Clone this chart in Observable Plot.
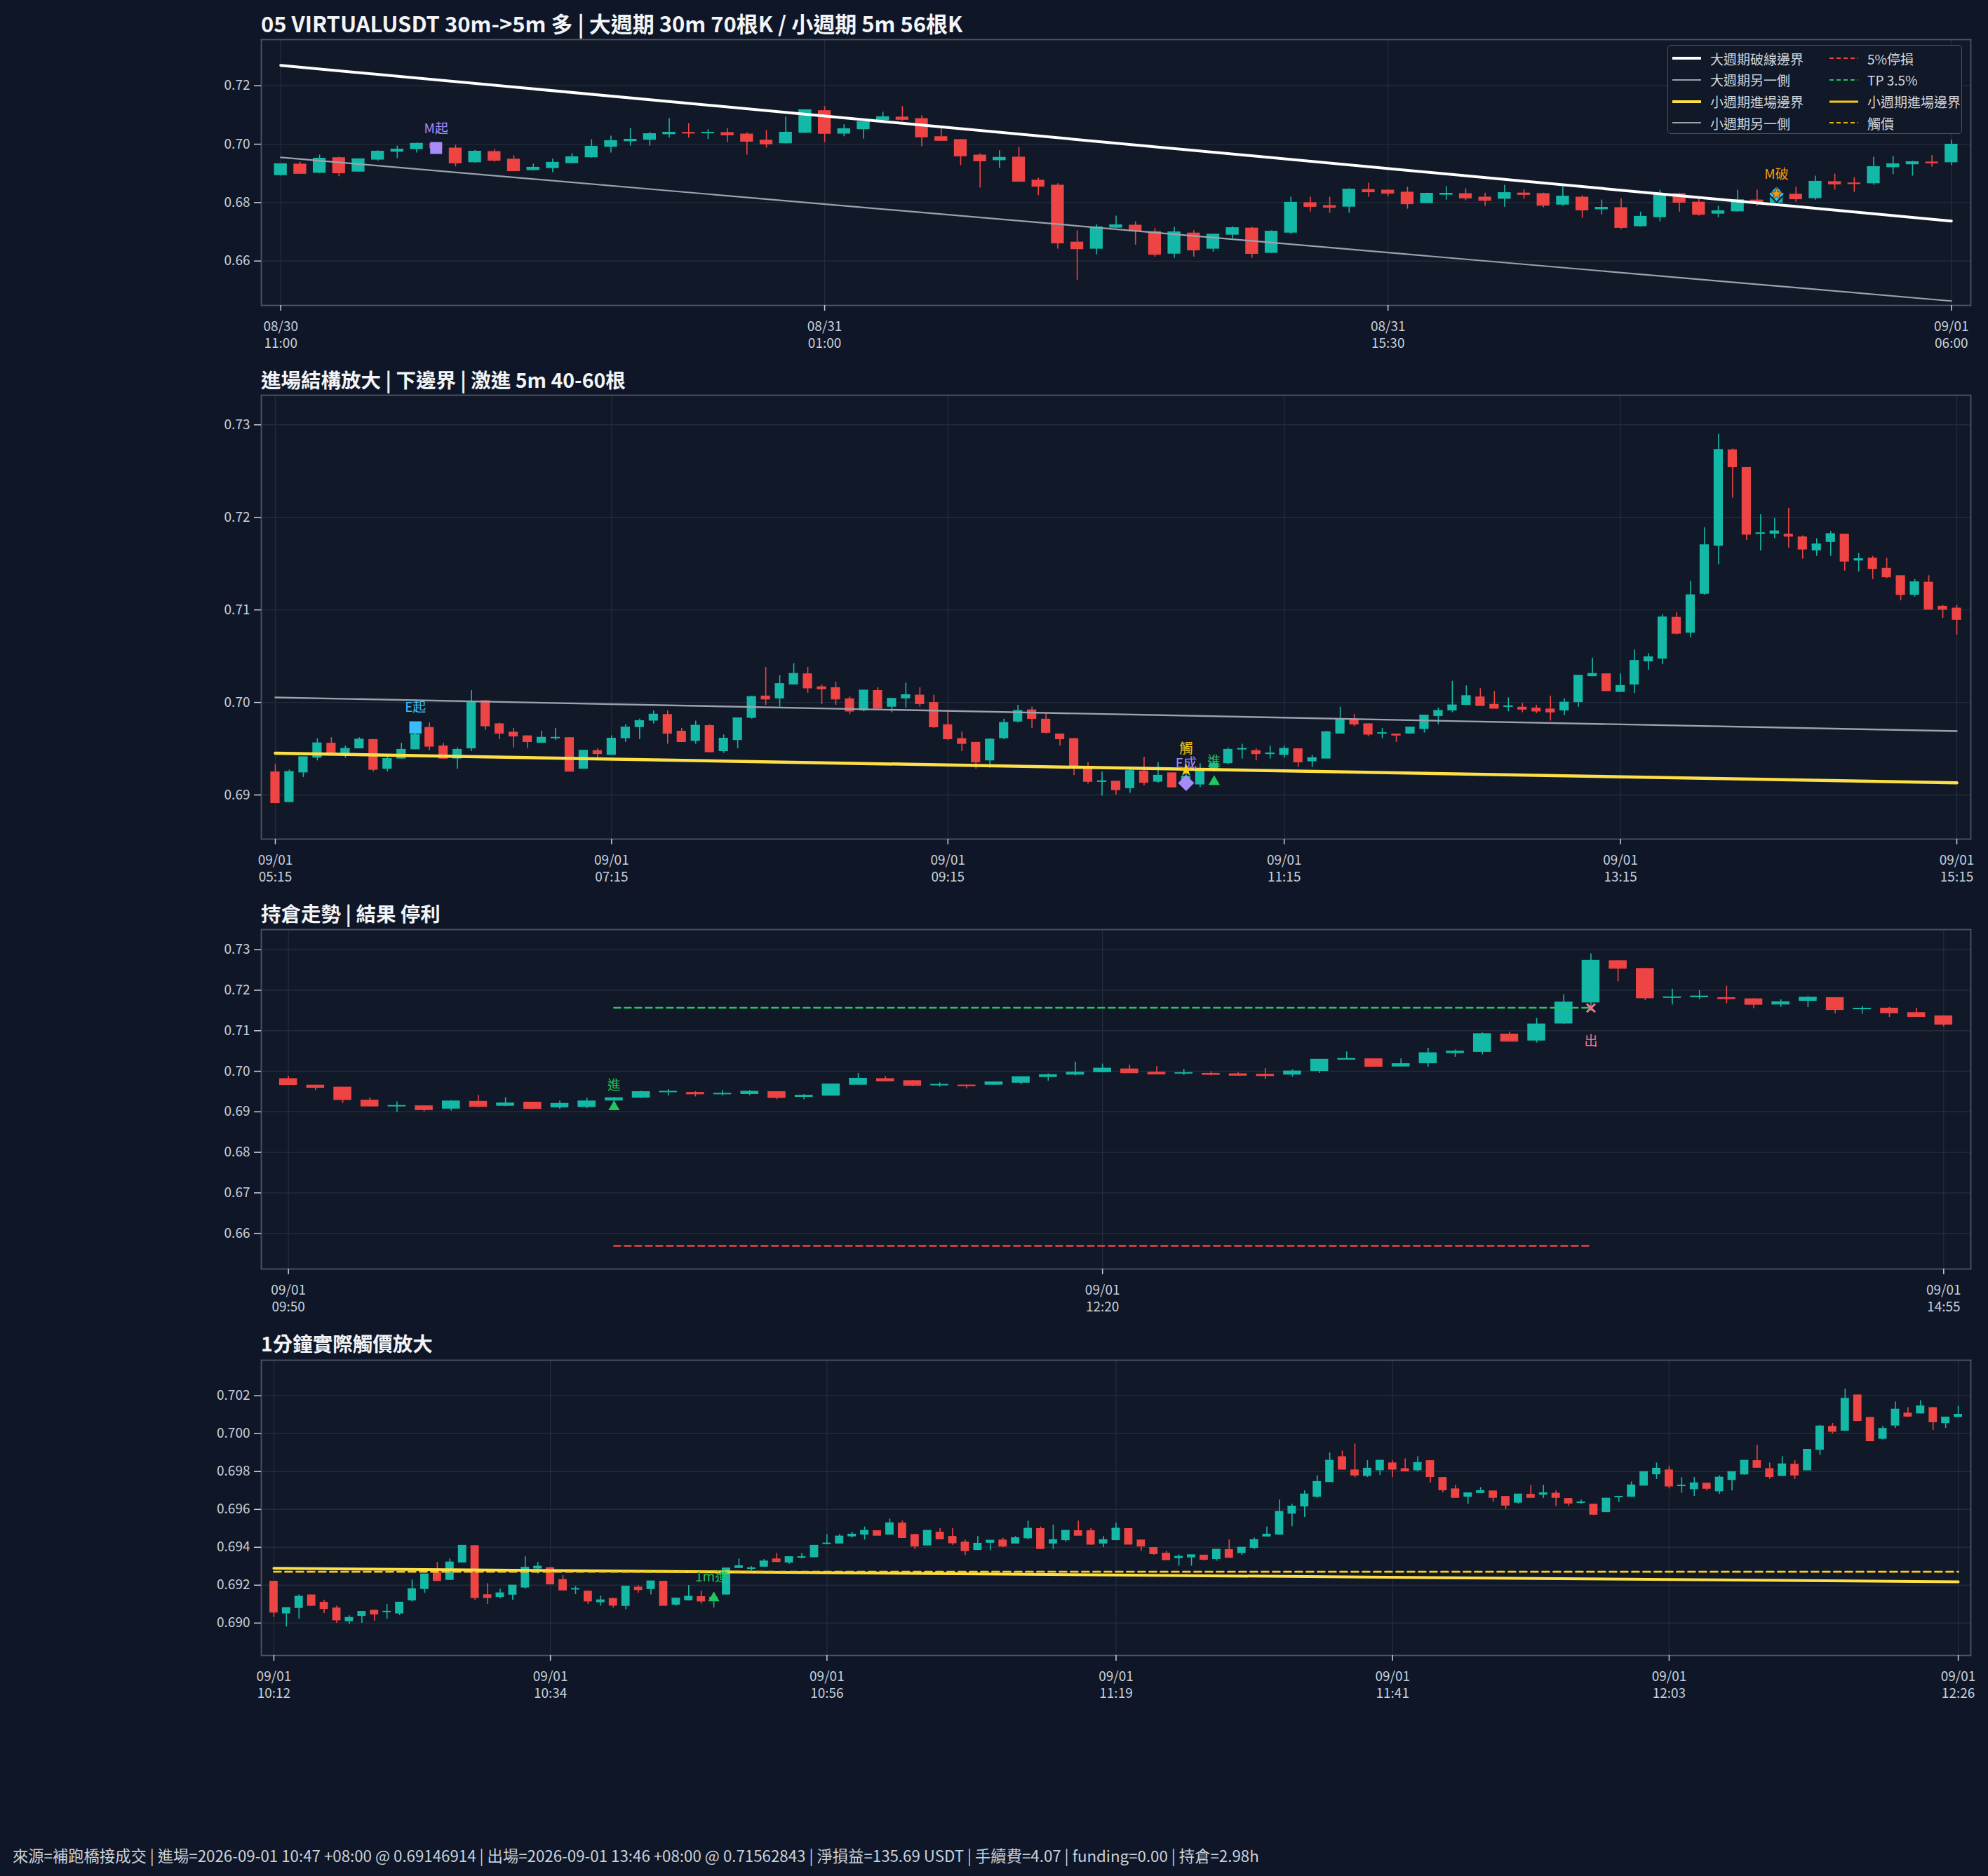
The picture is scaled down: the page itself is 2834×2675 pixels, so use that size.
<!DOCTYPE html>
<html><head><meta charset="utf-8">
<script src="https://cdn.jsdelivr.net/npm/d3@7"></script>
<script src="https://cdn.jsdelivr.net/npm/@observablehq/plot@0.6"></script>
<style>
html,body{margin:0;padding:0;background:#0e1628;}
#root{position:relative;width:2834px;height:2675px;background:#0e1628;font-family:"Noto Sans CJK TC","Noto Sans",sans-serif;overflow:hidden}
.ptitle{position:absolute;left:372px;color:#f3f4f6;font-weight:bold;font-size:28.5px;line-height:29px;white-space:nowrap}
.ptitle.main{font-size:31px;line-height:31px}
#legend{position:absolute;left:2377px;top:64px;width:420px;height:127px;background:#111827;border:1.5px solid #4b5563;border-radius:5px;box-sizing:border-box}
.lg{position:absolute;height:30px;display:flex;align-items:center;color:#d1d5db;font-size:19px;white-space:nowrap}
.lg svg{margin-right:13px}
#footer{position:absolute;left:18px;top:2632px;color:#c9d1d9;font-size:22.3px;line-height:26px;white-space:nowrap}
</style></head><body><div id="root"></div>
<script>
// ---------------- DATA ----------------
// Panel 1: 30m candles, 08/30 11:00 -> 09/01 06:00
const p1Open  = [.6893,.6932,.6901,.6954,.6905,.6946,.6973,.6982,.7002,.6987,.6937,.6975,.6949,.6910,.6917,.6934,.6954,.6990,.7009,.7014,.7033,.7040,.7039,.7040,.7035,.7014,.7002,.7038,.7115,.7035,.7050,.7081,.7093,.7088,.7026,.7016,.6963,.6944,.6956,.6877,.6860,.6665,.6641,.6713,.6723,.6701,.6624,.6696,.6641,.6689,.6713,.6627,.6696,.6800,.6790,.6785,.6845,.6843,.6836,.6797,.6826,.6831,.6819,.6812,.6833,.6831,.6792,.6819,.6776,.6783,.6718,.6749,.6831,.6802,.6761,.6769,.6809,.6799,.6829,.6814,.6872,.6867,.6865,.6920,.6930,.6939,.6937];
const p1High  = [.6933,.6939,.6963,.6956,.6950,.6978,.6994,.7004,.7006,.6997,.6979,.6982,.6961,.6932,.6949,.6968,.7016,.7028,.7054,.7040,.7088,.7071,.7050,.7054,.7040,.7047,.7093,.7117,.7129,.7067,.7076,.7110,.7129,.7098,.7054,.7017,.6968,.6978,.6990,.6884,.6865,.6704,.6725,.6754,.6735,.6711,.6716,.6704,.6691,.6718,.6716,.6704,.6819,.6819,.6819,.6848,.6867,.6844,.6853,.6833,.6855,.6848,.6833,.6860,.6845,.6833,.6855,.6824,.6809,.6814,.6768,.6843,.6833,.6812,.6788,.6843,.6843,.6825,.6853,.6891,.6898,.6886,.6956,.6958,.6942,.6961,.7014];
const p1Low   = [.6891,.6899,.6900,.6889,.6904,.6942,.6951,.6970,.6985,.6923,.6936,.6939,.6909,.6909,.6903,.6933,.6953,.6970,.6994,.6994,.7021,.7021,.7016,.7006,.6963,.6987,.7001,.7037,.7006,.7026,.7018,.7080,.7079,.6992,.7013,.6927,.6850,.6918,.6873,.6824,.6641,.6535,.6622,.6712,.6655,.6614,.6610,.6614,.6631,.6677,.6610,.6626,.6691,.6768,.6764,.6764,.6819,.6821,.6778,.6796,.6809,.6807,.6788,.6785,.6812,.6783,.6788,.6747,.6759,.6708,.6717,.6735,.6768,.6754,.6749,.6768,.6788,.6797,.6802,.6809,.6843,.6836,.6860,.6896,.6891,.6922,.6927];
const p1Close = [.6932,.6901,.6951,.6903,.6949,.6975,.6982,.7002,.6988,.6937,.6975,.6946,.6910,.6920,.6937,.6956,.6992,.7011,.7016,.7035,.7040,.7039,.7040,.7033,.7011,.7002,.7040,.7117,.7038,.7052,.7076,.7093,.7086,.7026,.7014,.6961,.6944,.6954,.6874,.6857,.6663,.6643,.6716,.6723,.6704,.6624,.6699,.6639,.6691,.6713,.6627,.6701,.6800,.6788,.6785,.6845,.6838,.6833,.6797,.6831,.6831,.6817,.6809,.6833,.6829,.6792,.6821,.6776,.6783,.6716,.6752,.6826,.6802,.6761,.6771,.6809,.6804,.6819,.6814,.6872,.6865,.6866,.6922,.6932,.6939,.6937,.6999];
const p1TickIdx = [0, 28, 57, 86];
const p1TickLabels = ["08/30\n11:00", "08/31\n01:00", "08/31\n15:30", "09/01\n06:00"];
const p1BigBoundary = [[0, 0.7270], [86, 0.6737]];   // 大週期破線邊界
const p1BigOther    = [[0, 0.6955], [86, 0.6463]];   // 大週期另一側
const p1MStart = [8, 0.6987];     // M起
const p1MBreak = [77, 0.68295];   // M破

// Panel 2: 5m candles, 09/01 05:15 -> 15:15 (panel 3 is a slice of this series)
const p2Open  = [.6925,.6892,.6924,.6940,.6956,.6944,.6950,.6960,.6928,.6939,.6949,.6973,.6953,.6939,.6950,.7002,.6977,.6968,.6964,.6956,.6962,.6962,.6928,.6948,.6943,.6961,.6973,.6980,.6987,.6969,.6958,.6975,.6947,.6959,.6983,.7007,.7004,.7019,.7031,.7017,.7016,.7004,.6991,.7013,.6995,.7004,.7008,.7000,.6976,.6961,.6957,.6937,.6961,.6979,.6992,.6982,.6966,.6961,.6929,.6914,.6915,.6907,.6926,.6914,.6924,.6910,.6911,.6927,.6934,.6949,.6948,.6944,.6943,.6950,.6936,.6939,.6966,.6982,.6977,.6966,.6966,.6966,.6971,.6985,.6991,.6997,.7006,.6998,.6995,.6995,.6994,.6993,.6991,.7000,.7028,.7031,.7011,.7019,.7044,.7047,.7092,.7075,.7117,.7169,.7273,.7254,.7182,.7182,.7182,.7179,.7164,.7173,.7182,.7153,.7156,.7145,.7137,.7116,.7130,.7104,.7102];
const p2High  = [.6933,.6927,.6941,.6961,.6962,.6953,.6962,.6960,.6944,.6956,.6975,.6978,.6956,.6951,.7013,.7002,.6978,.6972,.6964,.6969,.6972,.6962,.6948,.6950,.6964,.6976,.6982,.6991,.6991,.6972,.6980,.6976,.6965,.6983,.7007,.7038,.7029,.7042,.7038,.7019,.7022,.7006,.7013,.7016,.7004,.7021,.7016,.7008,.6990,.6968,.6957,.6961,.6982,.6997,.6995,.6988,.6966,.6961,.6935,.6925,.6915,.6928,.6941,.6935,.6924,.6927,.6934,.6936,.6951,.6955,.6950,.6953,.6953,.6950,.6943,.6969,.6995,.6987,.6977,.6972,.6966,.6973,.6986,.6994,.7023,.7018,.7015,.7012,.7005,.6999,.6997,.7007,.7004,.7029,.7048,.7031,.7031,.7057,.7053,.7095,.7097,.7131,.7189,.7290,.7274,.7254,.7203,.7199,.7210,.7180,.7177,.7185,.7182,.7161,.7158,.7156,.7137,.7133,.7137,.7105,.7105];
const p2Low   = [.6892,.6892,.6919,.6937,.6944,.6940,.6950,.6925,.6925,.6939,.6949,.6948,.6939,.6928,.6947,.6970,.6960,.6951,.6950,.6956,.6959,.6925,.6928,.6940,.6943,.6957,.6960,.6977,.6955,.6958,.6955,.6947,.6945,.6950,.6982,.6997,.6995,.7019,.7010,.6998,.6997,.6987,.6990,.6994,.6989,.6994,.6995,.6972,.6959,.6947,.6928,.6929,.6960,.6978,.6972,.6966,.6953,.6921,.6912,.6899,.6900,.6902,.6910,.6913,.6908,.6906,.6908,.6925,.6933,.6939,.6937,.6939,.6940,.6930,.6930,.6939,.6966,.6974,.6963,.6961,.6957,.6966,.6967,.6976,.6989,.6997,.6997,.6994,.6990,.6989,.6988,.6980,.6986,.6995,.7028,.7013,.7011,.7010,.7035,.7041,.7073,.7070,.7116,.7149,.7221,.7175,.7164,.7177,.7167,.7155,.7158,.7158,.7142,.7141,.7133,.7134,.7110,.7114,.7101,.7091,.7073];
const p2Close = [.6892,.6925,.6941,.6956,.6945,.6950,.6960,.6928,.6939,.6949,.6965,.6953,.6940,.6949,.7000,.6975,.6967,.6964,.6958,.6962,.6962,.6926,.6948,.6945,.6961,.6973,.6980,.6987,.6967,.6958,.6975,.6947,.6961,.6983,.7006,.7004,.7020,.7031,.7016,.7015,.7004,.6991,.7013,.6994,.7004,.7008,.6999,.6974,.6961,.6956,.6936,.6960,.6978,.6991,.6983,.6968,.6961,.6931,.6915,.6915,.6906,.6926,.6914,.6921,.6909,.6920,.6926,.6934,.6949,.6950,.6945,.6945,.6950,.6936,.6940,.6968,.6982,.6977,.6966,.6967,.6965,.6973,.6986,.6991,.6997,.7007,.6997,.6994,.6996,.6993,.6991,.6990,.7000,.7029,.7031,.7013,.7018,.7045,.7049,.7092,.7075,.7116,.7170,.7273,.7255,.7182,.7183,.7185,.7180,.7166,.7171,.7182,.7153,.7155,.7145,.7136,.7117,.7130,.7101,.7101,.7090];
const p2TickIdx = [0, 24, 48, 72, 96, 120];
const p2TickLabels = ["09/01\n05:15", "09/01\n07:15", "09/01\n09:15", "09/01\n11:15", "09/01\n13:15", "09/01\n15:15"];
const p2SmallEntry = [[0, 0.69452], [120, 0.69132]];  // 小週期進場邊界
const p2SmallOther = [[0, 0.70054], [120, 0.6969]];   // 小週期另一側
const p2EStart = [10, 0.6973];   // E起
const p2EDone  = [65, 0.69129];  // E成
const p2Touch  = [65, 0.6927];   // 觸
const p2Entry  = [67, 0.69144];  // 進

// Panel 3: 5m, 09:50 -> 14:55 = p2 bars 55..116
const p3Start = 55, p3End = 116;
const p3TickIdx = [0, 30, 61];
const p3TickLabels = ["09/01\n09:50", "09/01\n12:20", "09/01\n14:55"];
const p3TP = 0.71567, p3Stop = 0.65690;
const p3Span = [12, 48];
const p3Entry = [12, 0.6912];   // 進
const p3Exit  = [48, 0.71562];  // 出

// Panel 4: 1m candles, 10:12 -> 12:26
const p4Open  = [.69221,.69049,.69078,.69149,.69110,.69080,.69008,.69036,.69068,.69060,.69049,.69118,.69178,.69268,.69226,.69318,.69409,.69150,.69136,.69148,.69186,.69286,.69293,.69230,.69180,.69169,.69108,.69130,.69089,.69190,.69178,.69221,.69095,.69118,.69140,.69115,.69149,.69289,.69289,.69296,.69339,.69318,.69348,.69346,.69420,.69418,.69456,.69465,.69488,.69465,.69528,.69468,.69408,.69480,.69458,.69428,.69384,.69422,.69439,.69418,.69446,.69499,.69418,.69436,.69488,.69488,.69418,.69436,.69499,.69439,.69399,.69369,.69341,.69345,.69359,.69336,.69388,.69368,.69395,.69455,.69465,.69576,.69614,.69665,.69743,.69879,.69809,.69775,.69805,.69846,.69816,.69805,.69858,.69769,.69709,.69665,.69685,.69698,.69669,.69634,.69680,.69676,.69686,.69658,.69637,.69628,.69584,.69667,.69665,.69724,.69784,.69809,.69726,.69705,.69739,.69694,.69754,.69783,.69858,.69816,.69775,.69839,.69805,.69913,.70039,.70014,.70205,.70086,.69971,.70041,.70109,.70105,.70138,.70054,.70086];
const p4High  = [.69221,.69080,.69149,.69149,.69121,.69090,.69039,.69060,.69068,.69099,.69109,.69228,.69258,.69321,.69339,.69409,.69409,.69209,.69180,.69199,.69350,.69321,.69293,.69251,.69193,.69169,.69143,.69130,.69193,.69199,.69221,.69221,.69130,.69199,.69170,.69140,.69289,.69339,.69299,.69336,.69368,.69349,.69368,.69409,.69468,.69468,.69479,.69508,.69488,.69550,.69539,.69468,.69488,.69499,.69499,.69439,.69458,.69436,.69449,.69458,.69539,.69508,.69518,.69488,.69539,.69499,.69458,.69528,.69499,.69439,.69399,.69380,.69361,.69359,.69359,.69388,.69439,.69399,.69449,.69508,.69650,.69628,.69699,.69779,.69899,.69909,.69946,.69858,.69858,.69858,.69868,.69879,.69858,.69769,.69728,.69686,.69716,.69698,.69669,.69680,.69728,.69728,.69698,.69658,.69650,.69628,.69658,.69668,.69746,.69798,.69846,.69828,.69769,.69769,.69739,.69779,.69798,.69858,.69939,.69846,.69879,.69858,.69916,.70045,.70055,.70236,.70205,.70086,.70039,.70168,.70138,.70175,.70138,.70086,.70145];
const p4Low   = [.69030,.68980,.69021,.69090,.69051,.68999,.68993,.68999,.69011,.69021,.69040,.69112,.69158,.69226,.69226,.69318,.69121,.69099,.69128,.69121,.69180,.69259,.69208,.69176,.69151,.69099,.69090,.69080,.69071,.69159,.69149,.69095,.69090,.69118,.69101,.69080,.69149,.69289,.69276,.69296,.69321,.69311,.69339,.69346,.69414,.69418,.69449,.69439,.69465,.69465,.69453,.69389,.69408,.69446,.69411,.69359,.69384,.69383,.69399,.69418,.69440,.69389,.69389,.69428,.69465,.69411,.69399,.69436,.69418,.69380,.69359,.69336,.69301,.69301,.69328,.69328,.69348,.69359,.69389,.69455,.69465,.69509,.69558,.69659,.69743,.69814,.69768,.69769,.69780,.69769,.69799,.69799,.69740,.69688,.69659,.69628,.69685,.69639,.69599,.69628,.69665,.69659,.69616,.69616,.69628,.69569,.69584,.69639,.69665,.69724,.69759,.69709,.69686,.69669,.69698,.69680,.69698,.69783,.69818,.69759,.69775,.69759,.69805,.69886,.69999,.70014,.70071,.69958,.69968,.70029,.70086,.70105,.70018,.70029,.70086];
const p4Close = [.69059,.69080,.69140,.69095,.69078,.69018,.69028,.69060,.69049,.69061,.69109,.69180,.69258,.69226,.69321,.69409,.69136,.69136,.69158,.69199,.69293,.69299,.69208,.69176,.69181,.69118,.69121,.69096,.69193,.69178,.69221,.69095,.69130,.69140,.69118,.69135,.69289,.69301,.69290,.69326,.69326,.69349,.69349,.69409,.69421,.69458,.69468,.69488,.69465,.69528,.69453,.69408,.69488,.69446,.69425,.69384,.69420,.69436,.69408,.69449,.69499,.69395,.69439,.69488,.69465,.69418,.69439,.69499,.69418,.69408,.69368,.69336,.69351,.69359,.69338,.69388,.69348,.69399,.69439,.69468,.69588,.69616,.69680,.69746,.69858,.69814,.69783,.69816,.69858,.69814,.69805,.69846,.69775,.69705,.69665,.69686,.69698,.69665,.69624,.69680,.69665,.69686,.69665,.69635,.69638,.69576,.69658,.69668,.69728,.69798,.69816,.69725,.69727,.69739,.69713,.69769,.69798,.69858,.69824,.69775,.69839,.69783,.69916,.70039,.70014,.70185,.70071,.69964,.70026,.70128,.70094,.70145,.70064,.70086,.70101];
const p4TickIdx = [0, 22, 44, 67, 89, 111, 134];
const p4TickLabels = ["09/01\n10:12", "09/01\n10:34", "09/01\n10:56", "09/01\n11:19", "09/01\n11:41", "09/01\n12:03", "09/01\n12:26"];
const p4SmallEntry = [[0, 0.69289], [134, 0.69218]];  // 小週期進場邊界
const p4Trigger = 0.69271;                             // 觸價
const p4Entry = [35, 0.69132];                         // 1m進

const titles = [
  "05 VIRTUALUSDT 30m->5m 多 | 大週期 30m 70根K / 小週期 5m 56根K",
  "進場結構放大 | 下邊界 | 激進 5m 40-60根",
  "持倉走勢 | 結果 停利",
  "1分鐘實際觸價放大"
];
const legendItems = [
  ["大週期破線邊界", "#ffffff", 4, null],
  ["大週期另一側", "#9ca3af", 2, null],
  ["小週期進場邊界", "#fde047", 4, null],
  ["小週期另一側", "#9ca3af", 2, null],
  ["5%停損", "#ef4444", 2.2, "6,4"],
  ["TP 3.5%", "#22c55e", 2.2, "6,4"],
  ["小週期進場邊界", "#facc15", 3, null],
  ["觸價", "#eab308", 2.2, "6,4"]
];
const footerText = "來源=補跑橋接成交 | 進場=2026-09-01 10:47 +08:00 @ 0.69146914 | 出場=2026-09-01 13:46 +08:00 @ 0.71562843 | 淨損益=135.69 USDT | 手續費=4.07 | funding=0.00 | 持倉=2.98h";

// ---------------- STYLE ----------------
const UP = "#14b8a6", DN = "#ef4444", PANEL = "#111827", GRID = "#222c3c", FRAME = "#4b5563", TXT = "#c9d1d9";
const W = 2834, FL = 372, FR = 2809;
const FONT = '"Noto Sans CJK TC","Noto Sans",sans-serif';
const root = document.getElementById("root");

function toRows(O, H, L, C) { return O.map((o, i) => ({i, o, h: H[i], l: L[i], c: C[i]})); }
function seg(pts) { return pts.map(([i, v]) => ({i, v})); }
function pt(p) { return [{i: p[0], v: p[1]}]; }
function label(p, text, fill, dy, dx = 0) {
  return Plot.text(pt(p), {x: "i", y: "v", text: () => text, fill, dy, dx, fontSize: 19, fontFamily: FONT});
}

function panel({rows, n, yDomain, yTicks, yFmt, xTicks, xLabels, frameTop, frameBottom, over}) {
  const mt = 12, mb = 80, frameH = frameBottom - frameTop;
  const up = rows.filter(d => d.c >= d.o), dn = rows.filter(d => d.c < d.o);
  const BW = 0.33;
  const body = (data, col) => [
    Plot.ruleX(data, {x: "i", y1: "l", y2: "h", stroke: col, strokeWidth: 1.6}),
    Plot.rect(data, {x1: d => d.i - BW, x2: d => d.i + BW, y1: d => Math.min(d.o, d.c), y2: d => Math.max(d.o, d.c), fill: col}),
    Plot.ruleY(data, {x1: d => d.i - BW, x2: d => d.i + BW, y: "c", stroke: col, strokeWidth: 2})
  ];
  const chart = Plot.plot({
    width: W, height: frameH + mt + mb,
    marginLeft: FL, marginRight: W - FR, marginTop: mt, marginBottom: mb,
    x: {domain: [-1, n], label: null}, y: {domain: yDomain, label: null},
    style: {background: "transparent", color: TXT, fontFamily: FONT, fontSize: "19px", overflow: "visible"},
    marks: [
      Plot.frame({fill: PANEL, stroke: null}),
      Plot.gridY(yTicks, {stroke: GRID, strokeOpacity: 1, strokeWidth: 1.4}),
      Plot.gridX(xTicks, {stroke: GRID, strokeOpacity: 1, strokeWidth: 1.4}),
      ...body(up, UP), ...body(dn, DN),
      ...over,
      Plot.frame({stroke: FRAME, strokeWidth: 1.8}),
      Plot.axisY(yTicks, {tickFormat: yFmt, tickSize: 10, tickPadding: 6, fontSize: 19, strokeWidth: 1.5, label: null}),
      Plot.axisX(xTicks, {tickFormat: d => xLabels[xTicks.indexOf(d)], tickSize: 8, tickPadding: 12, fontSize: 19, lineHeight: 1.25, strokeWidth: 1.5, label: null})
    ]
  });
  chart.style.position = "absolute";
  chart.style.left = "0px";
  chart.style.top = (frameTop - mt) + "px";
  root.appendChild(chart);
}

// titles
const titleTops = [17, 526, 1287, 1900];
titles.forEach((t, k) => {
  const d = document.createElement("div");
  d.className = "ptitle" + (k === 0 ? " main" : ""); d.textContent = t; d.style.top = titleTops[k] + "px";
  root.appendChild(d);
});

// Panel 1
panel({
  rows: toRows(p1Open, p1High, p1Low, p1Close), n: 87,
  yDomain: [0.6448, 0.7358], yTicks: [0.66, 0.68, 0.70, 0.72], yFmt: d3.format(".2f"),
  xTicks: p1TickIdx, xLabels: p1TickLabels, frameTop: 56, frameBottom: 435,
  over: [
    Plot.line(seg(p1BigOther), {x: "i", y: "v", stroke: "#9ca3af", strokeWidth: 2.2}),
    Plot.line(seg(p1BigBoundary), {x: "i", y: "v", stroke: "#ffffff", strokeWidth: 4}),
    Plot.dot(pt(p1MStart), {x: "i", y: "v", symbol: "square", r: 9.6, fill: "#a78bfa"}),
    label(p1MStart, "M起", "#a78bfa", -27),
    Plot.dot(pt(p1MBreak), {x: "i", y: "v", symbol: "square", rotate: 45, r: 9.4, fill: "#38bdf8", stroke: "#0e1628", strokeWidth: 2}),
    Plot.dot(pt(p1MBreak), {x: "i", y: "v", symbol: "star", r: 5.5, fill: "#f59e0b", stroke: "#0e1628", strokeWidth: 0.8}),
    label(p1MBreak, "M破", "#f59e0b", -28)
  ]
});

// Panel 2
panel({
  rows: toRows(p2Open, p2High, p2Low, p2Close), n: 121,
  yDomain: [0.68523, 0.7332], yTicks: [0.69, 0.70, 0.71, 0.72, 0.73], yFmt: d3.format(".2f"),
  xTicks: p2TickIdx, xLabels: p2TickLabels, frameTop: 563, frameBottom: 1196,
  over: [
    Plot.line(seg(p2SmallOther), {x: "i", y: "v", stroke: "#9ca3af", strokeWidth: 2.4}),
    Plot.line(seg(p2SmallEntry), {x: "i", y: "v", stroke: "#fde047", strokeWidth: 4.5}),
    Plot.dot(pt(p2EStart), {x: "i", y: "v", symbol: "square", r: 9.8, fill: "#38bdf8"}),
    label(p2EStart, "E起", "#38bdf8", -28),
    Plot.dot(pt(p2EDone), {x: "i", y: "v", symbol: "square", rotate: 45, r: 9.2, fill: "#a78bfa"}),
    label(p2EDone, "E成", "#a78bfa", -28),
    Plot.dot(pt(p2Touch), {x: "i", y: "v", symbol: "star", r: 5.8, fill: "#facc15"}),
    label(p2Touch, "觸", "#facc15", -30),
    Plot.dot(pt(p2Entry), {x: "i", y: "v", symbol: "triangle", r: 6, fill: "#22c55e"}),
    label(p2Entry, "進", "#22c55e", -29)
  ]
});

// Panel 3
const p3Rows = toRows(p2Open, p2High, p2Low, p2Close).slice(p3Start, p3End + 1).map((d, k) => ({...d, i: k}));
panel({
  rows: p3Rows, n: 62,
  yDomain: [0.6512, 0.73497], yTicks: [0.66, 0.67, 0.68, 0.69, 0.70, 0.71, 0.72, 0.73], yFmt: d3.format(".2f"),
  xTicks: p3TickIdx, xLabels: p3TickLabels, frameTop: 1325, frameBottom: 1809,
  over: [
    Plot.line(seg([[p3Span[0], p3TP], [p3Span[1], p3TP]]), {x: "i", y: "v", stroke: "#22c55e", strokeWidth: 2.6, strokeDasharray: "9,6"}),
    Plot.line(seg([[p3Span[0], p3Stop], [p3Span[1], p3Stop]]), {x: "i", y: "v", stroke: "#ef4444", strokeWidth: 2.6, strokeDasharray: "9,6"}),
    Plot.dot(pt(p3Entry), {x: "i", y: "v", symbol: "triangle", r: 6, fill: "#22c55e"}),
    label(p3Entry, "進", "#22c55e", -30),
    Plot.dot(pt(p3Exit), {x: "i", y: "v", symbol: "times", r: 5.5, stroke: "#fb7185", strokeWidth: 3}),
    label(p3Exit, "出", "#fb7185", 48)
  ]
});

// Panel 4
panel({
  rows: toRows(p4Open, p4High, p4Low, p4Close), n: 135,
  yDomain: [0.68829, 0.70388], yTicks: [0.690, 0.692, 0.694, 0.696, 0.698, 0.700, 0.702], yFmt: d3.format(".3f"),
  xTicks: p4TickIdx, xLabels: p4TickLabels, frameTop: 1939, frameBottom: 2360,
  over: [
    Plot.line(seg(p4SmallEntry), {x: "i", y: "v", stroke: "#fde047", strokeWidth: 4}),
    Plot.line(seg([[0, p4Trigger], [134, p4Trigger]]), {x: "i", y: "v", stroke: "#facc15", strokeWidth: 2.7, strokeDasharray: "10,6"}),
    Plot.dot(pt(p4Entry), {x: "i", y: "v", symbol: "triangle", r: 6, fill: "#22c55e"}),
    label(p4Entry, "1m進", "#22c55e", -30, -3)
  ]
});

// legend
const lg = document.createElement("div");
lg.id = "legend";
legendItems.forEach(([name, col, sw, dash], k) => {
  const colIdx = Math.floor(k / 4), row = k % 4;
  const e = document.createElement("div");
  e.className = "lg";
  e.style.left = (colIdx === 0 ? 6 : 230) + "px";
  e.style.top = (3 + row * 30.8) + "px";
  e.innerHTML = `<svg width="41" height="10"><line x1="0" y1="5" x2="41" y2="5" stroke="${col}" stroke-width="${sw}" ${dash ? `stroke-dasharray="${dash}"` : ""}/></svg><span>${name}</span>`;
  lg.appendChild(e);
});
root.appendChild(lg);

// footer
const ft = document.createElement("div");
ft.id = "footer"; ft.textContent = footerText;
root.appendChild(ft);
</script></body></html>
